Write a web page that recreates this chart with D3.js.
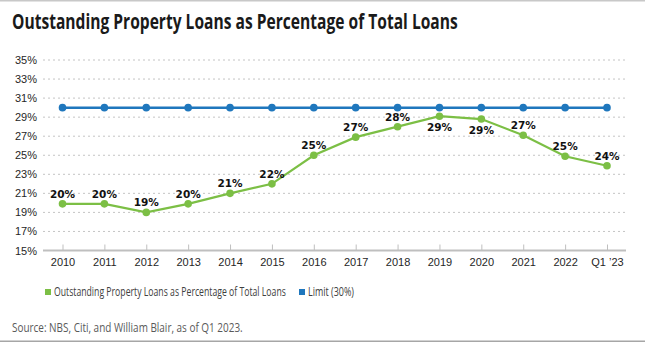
<!DOCTYPE html>
<html>
<head>
<meta charset="utf-8">
<script src="https://cdn.jsdelivr.net/npm/d3@7"></script>
<style>
  body { margin: 0; background: #fff; }
  svg { display: block; }
</style>
</head>
<body>
<div id="chart"></div>
<script>
var w = 645,
    h = 342;

var categories = ["2010", "2011", "2012", "2013", "2014", "2015", "2016", "2017", "2018", "2019", "2020", "2021", "2022", "Q1 \u201923"];
var loanShare = [19.9, 19.9, 19.0, 19.9, 21.0, 22.0, 25.0, 26.9, 28.0, 29.1, 28.8, 27.1, 24.9, 23.9];
var loanLabels = ["20%", "20%", "19%", "20%", "21%", "22%", "25%", "27%", "28%", "29%", "29%", "27%", "25%", "24%"];
var limitValues = [30, 30, 30, 30, 30, 30, 30, 30, 30, 30, 30, 30, 30, 30];
var yTicks = [15, 17, 19, 21, 23, 25, 27, 29, 31, 33, 35];
// labels that sit under the point (too close to the limit line)
var labelBelow = ["2019", "2020"];

var green = "#7cbf45",
    blue = "#1f77bd";

var sans = "'Open Sans', sans-serif";

var svg = d3.select("#chart").append("svg")
    .attr("width", w)
    .attr("height", h);

// squeeze a text horizontally so it spans the given width
function fitText(sel, x0, y0, width) {
    sel.each(function () {
        var natural = this.getComputedTextLength();
        d3.select(this)
            .attr("x", 0)
            .attr("y", 0)
            .attr("transform", "translate(" + x0 + "," + y0 + ") scale(" + (width / natural) + ",1)");
    });
}

// frame lines
svg.append("rect").attr("x", 0).attr("y", 0).attr("width", w).attr("height", 1.5).attr("fill", "#c8c8c8");
svg.append("rect").attr("x", 0).attr("y", h - 1.5).attr("width", w).attr("height", 1.5).attr("fill", "#a6a6a6");

svg.append("text")
    .style("font-family", sans)
    .style("font-weight", "bold")
    .style("font-size", "21px")
    .style("fill", "#1a1a1a")
    .text("Outstanding Property Loans as Percentage of Total Loans")
    .call(fitText, 12, 29, 446);

var x = d3.scalePoint()
    .domain(categories)
    .range([62.5, 607]);

var y = d3.scaleLinear()
    .domain([15, 35])
    .range([250.5, 60]);

var left = 43,
    right = 627;

// grid
svg.append("g").selectAll("line")
    .data(yTicks.slice(1))
    .enter()
    .append("line")
    .attr("x1", left)
    .attr("x2", right)
    .attr("y1", function (d) { return y(d); })
    .attr("y2", function (d) { return y(d); })
    .attr("stroke", "#c4c4c4")
    .attr("stroke-width", 1)
    .attr("stroke-dasharray", "2,3");

// y labels
svg.append("g").selectAll("text")
    .data(yTicks)
    .enter()
    .append("text")
    .attr("x", 37)
    .attr("y", function (d) { return y(d) + 4; })
    .style("text-anchor", "end")
    .style("font-family", "'Liberation Sans', Arial, sans-serif")
    .style("font-size", "11px")
    .style("fill", "#262626")
    .text(function (d) { return d + "%"; });

// x axis
var xAxis = svg.append("g")
    .attr("transform", "translate(0," + y(15) + ")")
    .call(d3.axisBottom(x).tickSize(0).tickPadding(8));
xAxis.select(".domain").remove();
xAxis.selectAll("text")
    .style("font-family", "'Liberation Sans', Arial, sans-serif")
    .style("font-size", "11px")
    .style("fill", "#262626");
xAxis.selectAll(".tick").append("line")
    .attr("y1", 0)
    .attr("y2", -6)
    .attr("stroke", "#bfbfbf");
svg.append("line")
    .attr("x1", left)
    .attr("x2", right - 1)
    .attr("y1", y(15))
    .attr("y2", y(15))
    .attr("stroke", "#bfbfbf")
    .attr("stroke-width", 2);

var line = d3.line()
    .x(function (d, i) { return x(categories[i]); })
    .y(function (d) { return y(d); });

// limit series
svg.append("path")
    .datum(limitValues)
    .attr("d", line)
    .attr("fill", "none")
    .attr("stroke", blue)
    .attr("stroke-width", 2.5);
svg.append("g").selectAll("circle")
    .data(limitValues)
    .enter()
    .append("circle")
    .attr("cx", function (d, i) { return x(categories[i]); })
    .attr("cy", function (d) { return y(d); })
    .attr("r", 3.8)
    .attr("fill", blue);

// loans series
svg.append("path")
    .datum(loanShare)
    .attr("d", line)
    .attr("fill", "none")
    .attr("stroke", green)
    .attr("stroke-width", 2.2);
svg.append("g").selectAll("circle")
    .data(loanShare)
    .enter()
    .append("circle")
    .attr("cx", function (d, i) { return x(categories[i]); })
    .attr("cy", function (d) { return y(d); })
    .attr("r", 3.8)
    .attr("fill", green);

svg.append("g").selectAll("text")
    .data(loanShare)
    .enter()
    .append("text")
    .attr("x", function (d, i) { return x(categories[i]); })
    .attr("y", function (d, i) {
        return labelBelow.indexOf(categories[i]) >= 0 ? y(d) + 15 : y(d) - 6;
    })
    .style("text-anchor", "middle")
    .style("font-family", "'DejaVu Sans', Verdana, sans-serif")
    .style("font-weight", "bold")
    .style("font-size", "10.5px")
    .style("fill", "#111")
    .text(function (d, i) { return loanLabels[i]; });

// legend
var legend = [
    {name: "Outstanding Property Loans as Percentage of Total Loans", color: green, x: 45, len: 232},
    {name: "Limit (30%)", color: blue, x: 299, len: 46}
];
legend.forEach(function (d) {
    svg.append("rect")
        .attr("x", d.x)
        .attr("y", 289)
        .attr("width", 6)
        .attr("height", 6)
        .attr("fill", d.color);
    svg.append("text")
        .style("font-family", sans)
        .style("font-size", "12px")
        .style("fill", "#404040")
        .text(d.name)
        .call(fitText, d.x + 9, 296, d.len);
});

svg.append("text")
    .style("font-family", sans)
    .style("font-size", "13.5px")
    .style("fill", "#595959")
    .text("Source: NBS, Citi, and William Blair, as of Q1 2023.")
    .call(fitText, 12, 332, 231);
</script>
</body>
</html>
